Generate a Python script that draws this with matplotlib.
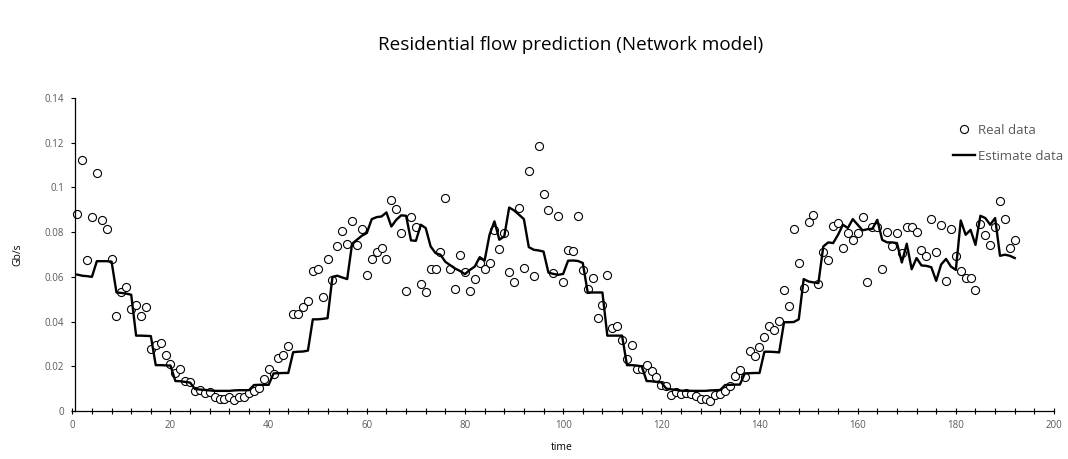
import numpy as np
import matplotlib
matplotlib.use("Agg")
import matplotlib.pyplot as plt
from matplotlib.ticker import MultipleLocator, FixedLocator

# Time index (15-minute samples over two days)
time = list(range(1, 193))

# Measured residential traffic, Gb/s
real_data = [
    0.0882, 0.1122, 0.0675, 0.0867, 0.1063, 0.0852, 0.0813, 0.0681, 0.0425, 0.0531,
    0.0554, 0.0455, 0.0472, 0.0427, 0.0467, 0.0275, 0.0296, 0.0303, 0.0249, 0.0210,
    0.0172, 0.0190, 0.0134, 0.0128, 0.0090, 0.0094, 0.0081, 0.0085, 0.0064, 0.0052,
    0.0055, 0.0061, 0.0051, 0.0061, 0.0064, 0.0081, 0.0090, 0.0104, 0.0142, 0.0190,
    0.0167, 0.0239, 0.0249, 0.0290, 0.0433, 0.0433, 0.0463, 0.0490, 0.0625, 0.0634,
    0.0510, 0.0681, 0.0585, 0.0740, 0.0806, 0.0748, 0.0851, 0.0743, 0.0816, 0.0609,
    0.0681, 0.0713, 0.0728, 0.0679, 0.0942, 0.0904, 0.0796, 0.0537, 0.0867, 0.0821,
    0.0569, 0.0531, 0.0637, 0.0637, 0.0710, 0.0952, 0.0634, 0.0545, 0.0696, 0.0622,
    0.0536, 0.0591, 0.0664, 0.0634, 0.0661, 0.0810, 0.0724, 0.0796, 0.0622, 0.0575,
    0.0910, 0.0639, 0.1073, 0.0604, 0.1187, 0.0972, 0.0900, 0.0616, 0.0873, 0.0575,
    0.0719, 0.0715, 0.0870, 0.0630, 0.0545, 0.0594, 0.0418, 0.0473, 0.0610, 0.0373,
    0.0382, 0.0318, 0.0231, 0.0293, 0.0190, 0.0187, 0.0204, 0.0179, 0.0151, 0.0118,
    0.0113, 0.0070, 0.0085, 0.0076, 0.0082, 0.0075, 0.0067, 0.0055, 0.0052, 0.0043,
    0.0073, 0.0075, 0.0090, 0.0113, 0.0155, 0.0184, 0.0151, 0.0269, 0.0248, 0.0287,
    0.0330, 0.0378, 0.0363, 0.0404, 0.0539, 0.0470, 0.0815, 0.0663, 0.0552, 0.0843,
    0.0876, 0.0569, 0.0709, 0.0676, 0.0828, 0.0840, 0.0731, 0.0796, 0.0764, 0.0796,
    0.0869, 0.0578, 0.0822, 0.0825, 0.0637, 0.0801, 0.0740, 0.0796, 0.0707, 0.0821,
    0.0824, 0.0800, 0.0719, 0.0691, 0.0860, 0.0710, 0.0834, 0.0582, 0.0812, 0.0694,
    0.0628, 0.0593, 0.0593, 0.0540, 0.0836, 0.0788, 0.0742, 0.0822, 0.0940, 0.0860,
    0.0728, 0.0763,
]

# Network model estimate, Gb/s
estimate_data = [
    0.0610, 0.0605, 0.0603, 0.0600, 0.0670, 0.0670, 0.0670, 0.0668, 0.0530, 0.0528,
    0.0525, 0.0520, 0.0337, 0.0337, 0.0336, 0.0335, 0.0205, 0.0205, 0.0204, 0.0203,
    0.0134, 0.0133, 0.0130, 0.0127, 0.0098, 0.0096, 0.0094, 0.0092, 0.0090, 0.0090,
    0.0090, 0.0090, 0.0092, 0.0093, 0.0093, 0.0093, 0.0116, 0.0117, 0.0117, 0.0117,
    0.0168, 0.0169, 0.0170, 0.0170, 0.0263, 0.0265, 0.0266, 0.0270, 0.0410, 0.0410,
    0.0412, 0.0415, 0.0600, 0.0605, 0.0597, 0.0590, 0.0748, 0.0766, 0.0784, 0.0796,
    0.0858, 0.0867, 0.0870, 0.0888, 0.0825, 0.0855, 0.0875, 0.0873, 0.0763, 0.0761,
    0.0833, 0.0818, 0.0736, 0.0706, 0.0699, 0.0667, 0.0652, 0.0637, 0.0626, 0.0612,
    0.0631, 0.0646, 0.0688, 0.0673, 0.0788, 0.0848, 0.0766, 0.0781, 0.0910, 0.0897,
    0.0878, 0.0858, 0.0733, 0.0721, 0.0718, 0.0713, 0.0619, 0.0613, 0.0609, 0.0613,
    0.0672, 0.0673, 0.0671, 0.0662, 0.0530, 0.0530, 0.0530, 0.0530, 0.0337, 0.0337,
    0.0337, 0.0337, 0.0205, 0.0205, 0.0203, 0.0200, 0.0134, 0.0133, 0.0130, 0.0128,
    0.0100, 0.0097, 0.0094, 0.0091, 0.0090, 0.0090, 0.0090, 0.0090, 0.0090, 0.0092,
    0.0093, 0.0094, 0.0116, 0.0117, 0.0118, 0.0118, 0.0168, 0.0169, 0.0170, 0.0170,
    0.0265, 0.0265, 0.0264, 0.0262, 0.0397, 0.0397, 0.0398, 0.0410, 0.0590, 0.0579,
    0.0575, 0.0572, 0.0736, 0.0754, 0.0751, 0.0788, 0.0833, 0.0818, 0.0858, 0.0833,
    0.0808, 0.0813, 0.0815, 0.0855, 0.0765, 0.0754, 0.0754, 0.0751, 0.0664, 0.0748,
    0.0634, 0.0684, 0.0651, 0.0649, 0.0643, 0.0582, 0.0655, 0.0680, 0.0646, 0.0631,
    0.0852, 0.0788, 0.0810, 0.0743, 0.0873, 0.0863, 0.0833, 0.0863, 0.0694, 0.0699,
    0.0694, 0.0684,
]

x_ticks = [0, 20, 40, 60, 80, 100, 120, 140, 160, 180, 200]
y_ticks = [0, 0.02, 0.04, 0.06, 0.08, 0.1, 0.12, 0.14]
y_tick_labels = ["0", "0.02", "0.04", "0.06", "0.08", "0.1", "0.12", "0.14"]

plt.rcParams["font.family"] = ["Open Sans", "DejaVu Sans"]
label_grey = "#595959"

fig = plt.figure(figsize=(10.68, 4.59), dpi=100)
ax = fig.add_axes([0.0677, 0.1046, 0.9192, 0.682])

ax.plot(time, real_data, linestyle="none", marker="o", markersize=5.8,
        markerfacecolor="white", markeredgecolor="black", markeredgewidth=0.8,
        label="Real data", zorder=2)
ax.plot(time, estimate_data, color="black", linewidth=1.7,
        label="Estimate data", zorder=3)

ax.set_xlim(0, 200)
ax.set_ylim(0, 0.14)

ax.xaxis.set_major_locator(FixedLocator(x_ticks))
ax.xaxis.set_minor_locator(MultipleLocator(4))
ax.set_xticklabels([str(v) for v in x_ticks])
ax.yaxis.set_major_locator(FixedLocator(y_ticks))
ax.set_yticklabels(y_tick_labels)

for side in ("top", "right"):
    ax.spines[side].set_visible(False)
ax.spines["left"].set_position(("data", 0.6))
for side in ("left", "bottom"):
    ax.spines[side].set_linewidth(0.9)
    ax.spines[side].set_color("black")

ax.tick_params(axis="x", which="major", direction="inout", length=5, width=0.8,
               pad=4, labelsize=7, labelcolor=label_grey)
ax.tick_params(axis="x", which="minor", direction="inout", length=4, width=0.8)
ax.tick_params(axis="y", which="major", direction="out", length=3, width=0.8,
               pad=5, labelsize=7, labelcolor=label_grey)

fig.text(562 / 1068, 1 - 447 / 459, "time", ha="center", va="center",
         fontsize=7.5, color="black")
fig.text(18 / 1068, 1 - 255 / 459, "Gb/s", ha="center", va="center",
         rotation=90, fontsize=7.5, color="black")
fig.text(571 / 1068, 1 - 45 / 459, "Residential flow prediction (Network model)",
         ha="center", va="center", fontsize=13.6, color="black")

ax.legend(loc="upper left", bbox_to_anchor=(953 / 1068, 1 - 124 / 459),
          bbox_transform=fig.transFigure, frameon=False, fontsize=9.5,
          labelcolor=label_grey, handlelength=1.67, handletextpad=0.2,
          labelspacing=0.95, borderpad=0, borderaxespad=0)

fig.savefig("out.png", dpi=100)
